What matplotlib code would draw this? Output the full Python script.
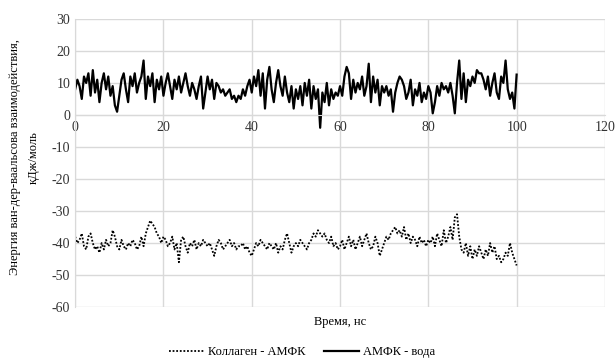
import numpy as np
import matplotlib.pyplot as plt

plt.rcParams['font.family'] = ['Liberation Serif', 'DejaVu Serif']
plt.rcParams['axes.unicode_minus'] = False

# time, ns (step 0.5)
time_ns = np.arange(0, 100.5, 0.5)

# АМФК - вода
amfk_water = [
    8, 11, 9, 5, 12, 10, 13, 6, 14, 7, 11, 4, 10, 13, 8, 12, 6, 9, 3, 1,
    6, 11, 13, 8, 4, 12, 9, 13, 7, 10, 12, 17, 5, 12, 9, 13, 4, 11, 8, 12,
    6, 10, 13, 9, 5, 11, 8, 12, 7, 10, 13, 9, 6, 10, 8, 5, 9, 12, 2, 7,
    12, 8, 11, 5, 10, 9, 7, 8, 6, 7, 8, 5, 6, 4, 6, 5, 8, 6, 9, 11,
    7, 12, 9, 14, 6, 13, 2, 11, 15, 8, 4, 10, 14, 9, 6, 12, 7, 4, 9, 2,
    8, 5, 9, 3, 10, 6, 11, 2, 9, 5, 8, -4, 7, 4, 10, 3, 8, 5, 7, 6,
    9, 6, 12, 15, 13, 5, 11, 7, 10, 8, 12, 6, 9, 16, 4, 12, 7, 11, 3, 9,
    7, 9, 6, 8, 1, 7, 10, 12, 11, 9, 5, 7, 11, 3, 8, 6, 10, 4, 7, 5,
    9, 7, 0.5, 4, 9, 6, 10, 8, 9, 7, 10, 6, 0.5, 10, 17, 5, 13, 4, 11, 9,
    12, 10, 14, 13, 13, 11, 8, 12, 6, 10, 13, 7, 5, 12, 10, 17, 8, 5, 7, 2,
    12.6,
]

# Коллаген - АМФК
collagen_amfk = [
    -38, -40, -39, -37, -41, -42, -38, -37, -40, -42, -41, -43, -40, -42, -39, -41, -40, -36, -38, -41,
    -42, -39, -41, -42, -40, -41, -39, -40, -42, -41, -38, -41, -37, -35, -33, -34, -35, -37, -38, -40,
    -38, -39, -41, -40, -38, -42, -40, -46, -39, -38, -41, -43, -40, -41, -39, -42, -40, -41, -39, -40,
    -41, -40, -42, -44, -41, -39, -40, -42, -41, -40, -39, -41, -40, -42, -41, -41, -40, -42, -41, -43,
    -44, -42, -40, -41, -39, -40, -41, -42, -40, -41, -42, -40, -43, -41, -42, -39, -37, -40, -43, -41,
    -40, -41, -39, -40, -41, -42, -40, -39, -37, -38, -36, -37, -38, -37, -39, -40, -38, -41, -40, -42,
    -41, -39, -42, -40, -38, -41, -39, -42, -40, -38, -41, -39, -37, -40, -42, -41, -38, -40, -44, -42,
    -40, -38, -39, -37, -36, -35, -37, -36, -38, -35, -39, -37, -40, -38, -39, -41, -38, -40, -39, -41,
    -39, -40, -38, -41, -37, -39, -41, -36, -40, -38, -35, -39, -32, -31, -38, -42, -43, -40, -44, -41,
    -45, -42, -44, -41, -43, -45, -42, -44, -40, -43, -41, -45, -44, -46, -45, -43, -44, -40, -43, -45,
    -47,
]

fig = plt.figure(figsize=(6.16, 3.63), dpi=100)
ax = fig.add_axes([0.122, 0.154, 0.86, 0.794])

ax.plot(time_ns, collagen_amfk, color='black', linestyle=(0, (1, 1)), linewidth=1.3,
        label='Коллаген - АМФК')
ax.plot(time_ns, amfk_water, color='black', linestyle='-', linewidth=1.6,
        solid_joinstyle='round', label='АМФК - вода')

ax.set_xlim(0, 120)
ax.set_ylim(-60, 30)
ax.set_xticks(np.arange(0, 121, 20))
ax.set_yticks(np.arange(-60, 31, 10))
ax.grid(True, color='#d9d9d9', linewidth=1)
ax.set_axisbelow(True)

for s in ['top', 'right']:
    ax.spines[s].set_visible(False)
ax.spines['bottom'].set_position(('data', 0))
ax.spines['bottom'].set_color('#d9d9d9')
ax.spines['left'].set_color('#d9d9d9')
ax.tick_params(length=0, labelsize=10, colors='#333333')
ax.tick_params(axis='x', pad=4)

ax.set_ylabel('Энергия ван-дер-ваальсова взаимодействия,\nкДж/моль', fontsize=9,
              linespacing=1.7)
ax.yaxis.set_label_coords(-0.067, 0.52)
fig.text(0.552, 0.112, 'Время, нс', ha='center', va='center', fontsize=9)

fig.legend(loc='center', bbox_to_anchor=(0.49, 0.03), ncol=2, frameon=False,
           fontsize=9, handlelength=2.8, columnspacing=1.5, handletextpad=0.3)

fig.savefig('out.png', dpi=100)
